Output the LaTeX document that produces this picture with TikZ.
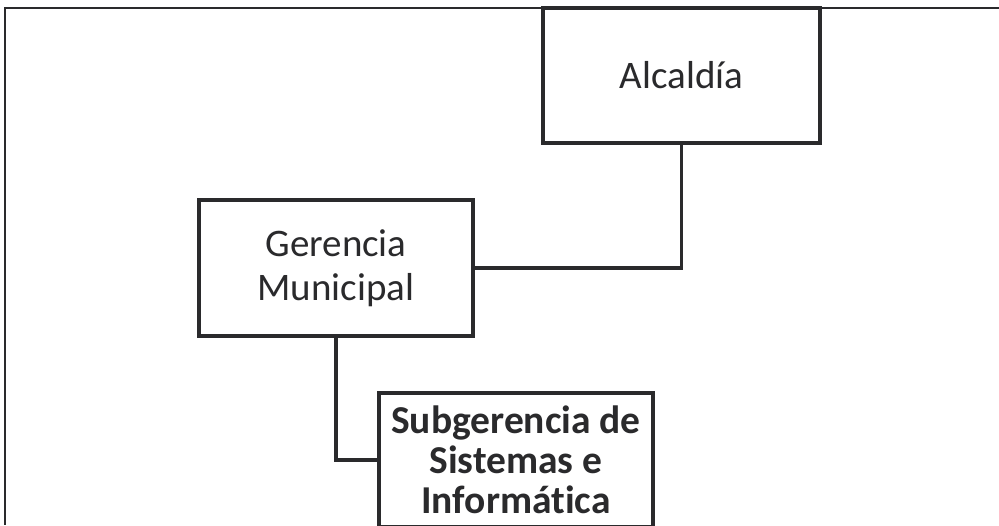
\documentclass[tikz,border=0pt]{standalone}
\usepackage{fontspec}
\setmainfont{Carlito}[Ligatures=NoCommon]
\definecolor{ink}{HTML}{2A2A2C}
\begin{document}
\begin{tikzpicture}[x=1pt,y=-1pt,
  orgbox/.style={draw=ink,line width=3.4pt,fill=white,text=ink,align=center,inner sep=0pt,font=\fontsize{39}{44}\selectfont},
  link/.style={draw=ink,line width=3.4pt},
  frame/.style={draw=ink,line width=1.5pt}]
\useasboundingbox (0,0) rectangle (999,525);
\clip (0,0) rectangle (999,525);
\fill[white] (0,0) rectangle (999,525);
\coordinate (ftl) at (5,8);
\coordinate (ftr) at (999,8);
\coordinate (fbl) at (5,525);
\draw[frame] (ftr) -- (ftl) -- (fbl);
\node[orgbox,minimum width=277pt,minimum height=135pt] (alc) at (681.5,75.5) {Alcaldía};
\node[orgbox,minimum width=274pt,minimum height=136pt] (ger) at (336,268) {Gerencia\\Municipal};
\node[orgbox,minimum width=274pt,minimum height=134pt,font=\bfseries\fontsize{39.5}{40}\selectfont] (sub) at (516,460) {Subgerencia de\\Sistemas e\\Informática};
\draw[link] (alc.south) |- (ger.east);
\draw[link] (ger.south) |- (sub.west);
\end{tikzpicture}
\end{document}
